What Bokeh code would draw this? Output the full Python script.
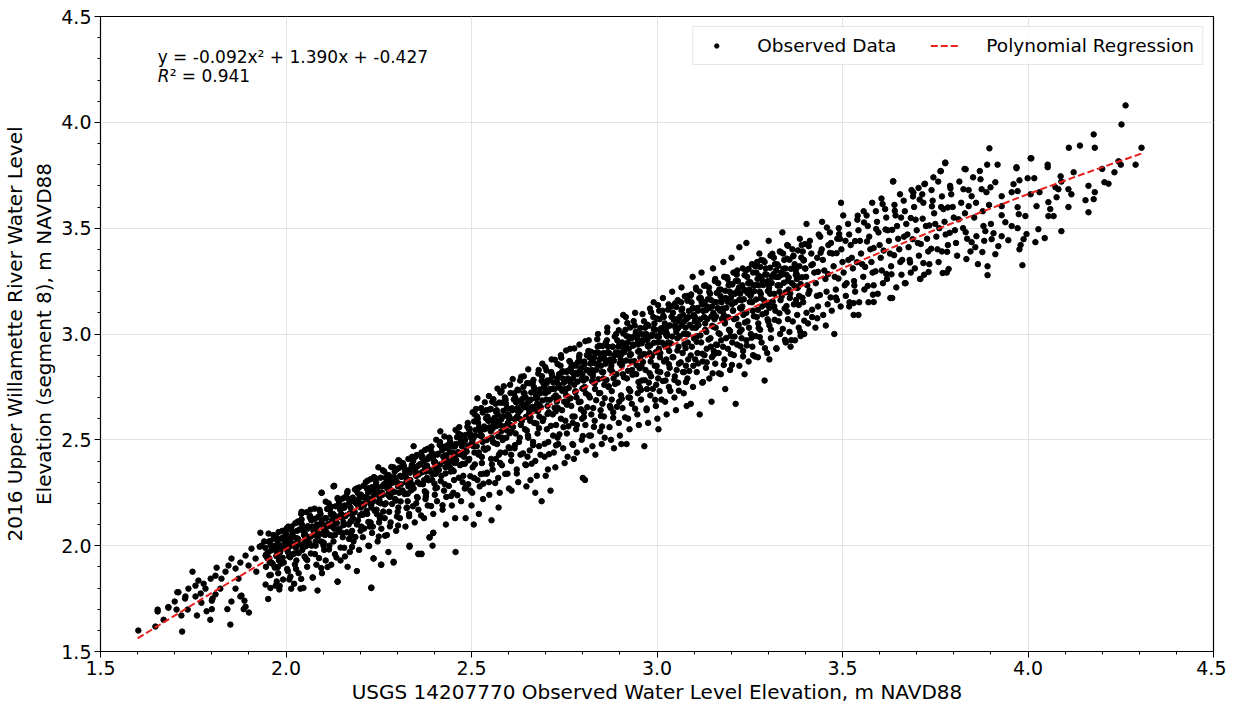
from bokeh.plotting import figure
from bokeh.models import (Range1d, SingleIntervalTicker, NumeralTickFormatter,
                          Legend, LegendItem, Label)
from bokeh.embed import file_html
from bokeh.resources import INLINE

# ---------------- data ----------------
obs_160_195 = [
    (1.602, 1.599), (1.648, 1.618), (1.654, 1.698), (1.654, 1.689), (1.670, 1.650), (1.683, 1.707),
    (1.700, 1.736), (1.705, 1.698), (1.710, 1.780), (1.718, 1.670), (1.720, 1.594), (1.728, 1.750),
    (1.735, 1.698), (1.748, 1.877), (1.756, 1.760), (1.760, 1.670), (1.772, 1.730), (1.786, 1.690),
    (1.796, 1.650), (1.800, 1.700), (1.800, 1.740), (1.810, 1.770), (1.813, 1.896), (1.842, 1.700),
    (1.850, 1.627), (1.853, 1.736), (1.880, 1.764), (1.888, 1.740), (1.886, 1.700), (1.900, 1.684),
    (1.707, 1.780), (1.683, 1.710), (1.764, 1.835), (1.783, 1.797), (1.797, 1.844), (1.810, 1.858),
    (1.826, 1.844), (1.837, 1.877), (1.845, 1.906), (1.853, 1.939), (1.864, 1.892), (1.872, 1.844),
    (1.877, 1.920), (1.891, 1.953), (1.899, 1.906), (1.907, 1.986), (1.918, 1.939), (1.920, 1.877),
    (1.934, 2.000), (1.945, 1.953), (1.953, 2.019), (1.961, 1.920), (1.974, 2.042), (1.988, 1.986),
    (1.999, 2.066), (2.007, 2.000), (1.877, 1.760), (1.891, 1.712), (1.864, 1.797), (1.823, 1.797),
    (1.802, 1.750), (1.770, 1.774), (1.737, 1.797), (1.729, 1.760), (1.756, 1.811), (1.778, 1.820),
    (1.931, 2.061), (1.929, 1.995), (1.972, 1.811), (1.945, 1.816), (2.012, 1.854), (2.039, 1.797),
    (2.085, 1.788), (2.042, 2.160), (2.096, 2.250), (2.130, 2.283), (2.139, 1.830), (2.230, 1.802),
    (2.236, 1.939), (2.257, 1.910), (2.290, 1.924), (2.333, 1.995), (2.357, 1.962), (2.365, 1.962),
    (2.387, 2.038), (2.397, 2.061),
]

obs_195_250 = [
    (1.941, 2.02), (1.944, 1.99), (1.947, 1.96), (1.950, 1.94), (1.953, 1.97), (1.956, 1.92), (1.959, 2.00), (1.946, 1.90), (1.955, 1.86), (1.958, 1.80),
    (1.966, 2.05), (1.969, 2.00), (1.972, 1.98), (1.975, 1.95), (1.978, 2.02), (1.981, 1.93), (1.984, 1.97), (1.970, 1.90), (1.979, 1.87), (1.983, 1.81),
    (1.990, 2.07), (1.993, 2.04), (1.996, 2.01), (1.999, 1.99), (2.002, 2.05), (2.005, 1.97), (2.008, 1.95), (2.011, 2.02), (1.994, 1.92), (2.003, 1.89), (2.009, 1.84), (2.006, 2.09),
    (2.015, 2.09), (2.018, 2.06), (2.021, 2.04), (2.024, 2.01), (2.027, 1.99), (2.030, 2.07), (2.033, 2.03), (2.019, 1.96), (2.028, 1.93), (2.034, 1.87), (2.022, 1.82), (2.031, 2.11),
    (2.040, 2.12), (2.043, 2.10), (2.046, 2.07), (2.049, 2.05), (2.052, 2.02), (2.055, 2.00), (2.058, 2.08), (2.044, 1.98), (2.053, 1.94), (2.057, 1.90), (2.047, 1.80), (2.060, 2.04), (2.041, 2.15),
    (2.065, 2.14), (2.068, 2.12), (2.071, 2.09), (2.074, 2.07), (2.077, 2.05), (2.080, 2.02), (2.083, 2.10), (2.069, 2.00), (2.078, 1.96), (2.082, 1.91), (2.072, 1.85), (2.085, 2.06), (2.066, 2.17),
    (2.090, 2.17), (2.093, 2.15), (2.096, 2.12), (2.099, 2.10), (2.102, 2.08), (2.105, 2.05), (2.108, 2.13), (2.094, 2.02), (2.103, 1.98), (2.107, 1.93), (2.097, 1.87), (2.110, 2.09), (2.096, 2.25), (2.101, 2.00),
    (2.115, 2.20), (2.118, 2.17), (2.121, 2.15), (2.124, 2.12), (2.127, 2.10), (2.130, 2.08), (2.133, 2.14), (2.119, 2.05), (2.128, 2.02), (2.132, 1.96), (2.122, 1.91), (2.135, 2.11), (2.128, 2.28), (2.117, 2.00),
    (2.140, 2.22), (2.143, 2.20), (2.146, 2.17), (2.149, 2.15), (2.152, 2.13), (2.155, 2.11), (2.158, 2.19), (2.144, 2.08), (2.153, 2.04), (2.157, 1.99), (2.147, 1.93), (2.160, 2.14), (2.139, 1.83), (2.151, 2.06),
    (2.165, 2.25), (2.168, 2.22), (2.171, 2.20), (2.174, 2.18), (2.177, 2.15), (2.180, 2.13), (2.183, 2.21), (2.169, 2.10), (2.178, 2.07), (2.182, 2.02), (2.172, 1.97), (2.185, 2.16), (2.166, 1.90), (2.176, 2.05),
    (2.190, 2.27), (2.193, 2.25), (2.196, 2.22), (2.199, 2.20), (2.202, 2.18), (2.205, 2.15), (2.208, 2.23), (2.194, 2.12), (2.203, 2.09), (2.207, 2.04), (2.197, 1.98), (2.210, 2.19), (2.191, 1.88), (2.201, 2.07),
    (2.215, 2.30), (2.218, 2.27), (2.221, 2.25), (2.224, 2.22), (2.227, 2.20), (2.230, 2.18), (2.233, 2.26), (2.219, 2.15), (2.228, 2.11), (2.232, 2.06), (2.222, 2.00), (2.235, 2.21), (2.230, 1.80), (2.226, 2.09), (2.236, 1.94),
    (2.240, 2.32), (2.243, 2.30), (2.246, 2.27), (2.249, 2.25), (2.252, 2.23), (2.255, 2.20), (2.258, 2.28), (2.244, 2.17), (2.253, 2.14), (2.257, 2.08), (2.247, 2.02), (2.260, 2.24), (2.249, 2.37), (2.256, 1.91), (2.251, 2.11),
    (2.265, 2.35), (2.268, 2.32), (2.271, 2.30), (2.274, 2.27), (2.277, 2.25), (2.280, 2.23), (2.283, 2.31), (2.269, 2.20), (2.278, 2.16), (2.282, 2.11), (2.272, 2.05), (2.285, 2.26), (2.276, 1.97), (2.266, 2.13),
    (2.290, 2.37), (2.293, 2.35), (2.296, 2.32), (2.299, 2.30), (2.302, 2.28), (2.305, 2.25), (2.308, 2.33), (2.294, 2.22), (2.303, 2.18), (2.307, 2.13), (2.297, 2.07), (2.310, 2.29), (2.290, 1.92), (2.301, 2.16), (2.306, 2.40),
    (2.315, 2.39), (2.318, 2.37), (2.321, 2.35), (2.324, 2.32), (2.327, 2.30), (2.330, 2.28), (2.333, 2.36), (2.319, 2.25), (2.328, 2.21), (2.332, 2.15), (2.322, 2.09), (2.335, 2.31), (2.333, 2.00), (2.326, 2.18),
    (2.340, 2.42), (2.343, 2.40), (2.346, 2.37), (2.349, 2.35), (2.352, 2.33), (2.355, 2.30), (2.358, 2.38), (2.344, 2.27), (2.353, 2.23), (2.357, 2.17), (2.347, 2.11), (2.360, 2.34), (2.357, 1.96), (2.351, 2.20), (2.344, 2.47),
    (2.365, 2.44), (2.368, 2.42), (2.371, 2.40), (2.374, 2.37), (2.377, 2.35), (2.380, 2.32), (2.383, 2.41), (2.369, 2.29), (2.378, 2.25), (2.382, 2.19), (2.372, 2.13), (2.385, 2.36), (2.365, 1.96), (2.376, 2.22), (2.387, 2.04),
    (2.390, 2.46), (2.393, 2.44), (2.396, 2.42), (2.399, 2.40), (2.402, 2.37), (2.405, 2.35), (2.408, 2.43), (2.394, 2.31), (2.403, 2.27), (2.407, 2.21), (2.397, 2.15), (2.410, 2.38), (2.397, 2.06), (2.401, 2.24), (2.395, 2.00),
    (2.415, 2.49), (2.418, 2.47), (2.421, 2.45), (2.424, 2.42), (2.427, 2.40), (2.430, 2.37), (2.433, 2.46), (2.419, 2.33), (2.428, 2.29), (2.432, 2.23), (2.422, 2.17), (2.435, 2.41), (2.416, 2.54), (2.426, 2.26), (2.431, 2.10),
    (2.440, 2.51), (2.443, 2.49), (2.446, 2.47), (2.449, 2.44), (2.452, 2.42), (2.455, 2.39), (2.458, 2.48), (2.444, 2.35), (2.453, 2.31), (2.457, 1.97), (2.447, 2.19), (2.460, 2.43), (2.451, 2.25), (2.456, 2.13), (2.442, 2.37),
    (2.465, 2.53), (2.468, 2.51), (2.471, 2.49), (2.474, 2.47), (2.477, 2.44), (2.480, 2.42), (2.483, 2.50), (2.469, 2.38), (2.478, 2.33), (2.482, 2.27), (2.472, 2.21), (2.485, 2.45), (2.484, 2.13), (2.476, 2.30), (2.467, 2.56),
]

obs_250_300 = [
    (2.490, 2.58), (2.493, 2.55), (2.496, 2.53), (2.499, 2.51), (2.502, 2.49), (2.505, 2.47), (2.508, 2.44), (2.494, 2.41), (2.503, 2.37), (2.507, 2.32), (2.497, 2.26), (2.510, 2.52), (2.500, 2.19), (2.506, 2.10), (2.491, 2.29), (2.509, 2.62),
    (2.515, 2.61), (2.518, 2.58), (2.521, 2.56), (2.524, 2.54), (2.527, 2.52), (2.530, 2.49), (2.533, 2.46), (2.519, 2.43), (2.528, 2.39), (2.532, 2.34), (2.522, 2.28), (2.535, 2.55), (2.520, 2.15), (2.531, 2.22), (2.516, 2.31), (2.526, 2.65),
    (2.540, 2.64), (2.543, 2.61), (2.546, 2.59), (2.549, 2.56), (2.552, 2.54), (2.555, 2.51), (2.558, 2.49), (2.544, 2.46), (2.553, 2.41), (2.557, 2.36), (2.547, 2.30), (2.560, 2.58), (2.554, 2.12), (2.548, 2.24), (2.541, 2.34), (2.556, 2.68),
    (2.565, 2.67), (2.568, 2.64), (2.571, 2.62), (2.574, 2.59), (2.577, 2.57), (2.580, 2.54), (2.583, 2.51), (2.569, 2.48), (2.578, 2.44), (2.582, 2.38), (2.572, 2.32), (2.585, 2.61), (2.576, 2.25), (2.566, 2.41), (2.581, 2.73), (2.573, 2.18),
    (2.590, 2.70), (2.593, 2.67), (2.596, 2.65), (2.599, 2.62), (2.602, 2.60), (2.605, 2.57), (2.608, 2.54), (2.594, 2.51), (2.603, 2.46), (2.607, 2.40), (2.597, 2.34), (2.610, 2.64), (2.601, 2.27), (2.608, 2.26), (2.591, 2.44), (2.604, 2.76), (2.598, 2.58),
    (2.615, 2.72), (2.618, 2.70), (2.621, 2.68), (2.624, 2.65), (2.627, 2.63), (2.630, 2.60), (2.633, 2.57), (2.619, 2.53), (2.628, 2.49), (2.632, 2.43), (2.622, 2.36), (2.635, 2.67), (2.626, 2.30), (2.616, 2.46), (2.631, 2.78), (2.623, 2.61),
    (2.640, 2.75), (2.643, 2.72), (2.646, 2.70), (2.649, 2.67), (2.652, 2.65), (2.655, 2.62), (2.658, 2.59), (2.644, 2.55), (2.653, 2.51), (2.657, 2.45), (2.647, 2.38), (2.660, 2.69), (2.659, 2.31), (2.651, 2.42), (2.641, 2.80), (2.656, 2.63), (2.648, 2.28),
    (2.665, 2.77), (2.668, 2.75), (2.671, 2.72), (2.674, 2.70), (2.677, 2.67), (2.680, 2.64), (2.683, 2.61), (2.669, 2.58), (2.678, 2.53), (2.682, 2.47), (2.672, 2.40), (2.685, 2.72), (2.672, 2.25), (2.676, 2.33), (2.666, 2.49), (2.681, 2.83), (2.684, 2.66),
    (2.690, 2.80), (2.693, 2.77), (2.696, 2.75), (2.699, 2.72), (2.702, 2.69), (2.705, 2.66), (2.708, 2.63), (2.694, 2.60), (2.703, 2.55), (2.707, 2.49), (2.697, 2.42), (2.710, 2.74), (2.700, 2.33), (2.689, 2.21), (2.706, 2.36), (2.691, 2.86), (2.704, 2.78),
    (2.715, 2.82), (2.718, 2.80), (2.721, 2.77), (2.724, 2.74), (2.727, 2.71), (2.730, 2.68), (2.733, 2.65), (2.719, 2.62), (2.728, 2.57), (2.732, 2.51), (2.722, 2.44), (2.735, 2.76), (2.713, 2.26), (2.726, 2.37), (2.716, 2.88), (2.731, 2.79), (2.734, 2.48),
    (2.740, 2.85), (2.743, 2.82), (2.746, 2.79), (2.749, 2.77), (2.752, 2.74), (2.755, 2.71), (2.758, 2.68), (2.744, 2.64), (2.753, 2.59), (2.757, 2.53), (2.747, 2.46), (2.760, 2.79), (2.751, 2.39), (2.741, 2.90), (2.756, 2.82), (2.748, 2.56), (2.759, 2.42),
    (2.765, 2.87), (2.768, 2.84), (2.771, 2.82), (2.774, 2.79), (2.777, 2.76), (2.780, 2.73), (2.783, 2.70), (2.769, 2.66), (2.778, 2.61), (2.782, 2.55), (2.772, 2.48), (2.785, 2.81), (2.776, 2.41), (2.766, 2.93), (2.781, 2.85), (2.773, 2.58), (2.784, 2.44),
    (2.790, 2.89), (2.793, 2.87), (2.796, 2.84), (2.799, 2.81), (2.802, 2.78), (2.805, 2.75), (2.808, 2.72), (2.794, 2.68), (2.803, 2.63), (2.807, 2.57), (2.797, 2.50), (2.810, 2.83), (2.800, 2.32), (2.806, 2.31), (2.791, 2.95), (2.804, 2.87), (2.798, 2.60), (2.809, 2.45),
    (2.815, 2.92), (2.818, 2.89), (2.821, 2.86), (2.824, 2.83), (2.827, 2.80), (2.830, 2.77), (2.833, 2.74), (2.819, 2.70), (2.828, 2.65), (2.832, 2.59), (2.822, 2.52), (2.835, 2.86), (2.826, 2.47), (2.816, 2.97), (2.831, 2.89), (2.823, 2.62), (2.834, 2.43),
    (2.840, 2.94), (2.843, 2.91), (2.846, 2.88), (2.849, 2.85), (2.852, 2.82), (2.855, 2.79), (2.858, 2.76), (2.844, 2.72), (2.853, 2.67), (2.857, 2.61), (2.847, 2.54), (2.860, 2.88), (2.851, 2.48), (2.841, 3.00), (2.856, 2.91), (2.848, 2.64), (2.859, 2.51),
    (2.865, 2.97), (2.868, 2.94), (2.871, 2.91), (2.874, 2.88), (2.877, 2.85), (2.880, 2.82), (2.883, 2.79), (2.869, 2.75), (2.878, 2.69), (2.882, 2.63), (2.872, 2.56), (2.885, 2.90), (2.876, 2.50), (2.866, 3.03), (2.881, 2.94), (2.873, 2.66), (2.884, 2.46),
    (2.890, 3.00), (2.893, 2.97), (2.896, 2.94), (2.899, 2.91), (2.902, 2.88), (2.905, 2.85), (2.908, 2.81), (2.894, 2.77), (2.903, 2.71), (2.907, 2.65), (2.897, 2.58), (2.910, 2.93), (2.900, 2.52), (2.891, 3.06), (2.906, 2.96), (2.898, 2.68), (2.909, 3.09), (2.904, 2.48),
    (2.915, 3.02), (2.918, 2.99), (2.921, 2.96), (2.924, 2.93), (2.927, 2.90), (2.930, 2.87), (2.933, 2.83), (2.919, 2.79), (2.928, 2.73), (2.932, 2.67), (2.922, 2.60), (2.935, 2.95), (2.918, 2.48), (2.926, 2.55), (2.916, 3.08), (2.931, 2.98), (2.923, 2.70),
    (2.940, 3.04), (2.943, 3.01), (2.946, 2.98), (2.949, 2.95), (2.952, 2.92), (2.955, 2.89), (2.958, 2.85), (2.944, 2.81), (2.953, 2.75), (2.957, 2.69), (2.947, 2.62), (2.960, 2.97), (2.951, 2.57), (2.941, 3.10), (2.956, 3.00), (2.948, 2.72), (2.959, 2.78),
    (2.965, 3.06), (2.968, 3.03), (2.971, 3.00), (2.974, 2.97), (2.977, 2.94), (2.980, 2.91), (2.983, 2.87), (2.969, 2.83), (2.978, 2.77), (2.982, 2.71), (2.972, 2.64), (2.985, 2.99), (2.966, 2.47), (2.976, 2.58), (2.981, 3.12), (2.973, 2.74), (2.984, 2.80),
]

obs_300_340 = [
    (2.990, 3.08), (2.993, 3.05), (2.996, 3.02), (2.999, 2.99), (3.002, 2.96), (3.005, 2.93), (3.008, 2.89), (2.994, 2.85), (3.003, 2.79), (3.007, 2.73), (2.997, 2.66), (3.010, 3.01), (3.001, 2.60), (2.991, 3.15), (3.006, 3.11), (2.998, 2.76), (3.009, 2.82), (3.004, 2.55),
    (3.015, 3.11), (3.018, 3.08), (3.021, 3.05), (3.024, 3.02), (3.027, 2.99), (3.030, 2.96), (3.033, 2.92), (3.019, 2.87), (3.028, 2.81), (3.032, 2.75), (3.022, 2.68), (3.035, 3.04), (3.026, 2.62), (3.016, 3.17), (3.031, 3.14), (3.023, 2.78), (3.034, 2.84),
    (3.040, 3.13), (3.043, 3.10), (3.046, 3.07), (3.049, 3.04), (3.052, 3.01), (3.055, 2.98), (3.058, 2.94), (3.044, 2.89), (3.053, 2.83), (3.057, 2.77), (3.047, 2.70), (3.060, 3.06), (3.051, 2.64), (3.041, 3.20), (3.056, 3.16), (3.048, 2.80), (3.059, 2.86),
    (3.065, 3.15), (3.068, 3.12), (3.071, 3.09), (3.074, 3.06), (3.077, 3.03), (3.080, 3.00), (3.083, 2.96), (3.069, 2.91), (3.078, 2.85), (3.082, 2.79), (3.072, 2.72), (3.085, 3.08), (3.080, 2.66), (3.066, 3.22), (3.081, 3.18), (3.073, 2.82), (3.084, 2.88),
    (3.090, 3.18), (3.093, 3.15), (3.096, 3.12), (3.099, 3.09), (3.102, 3.06), (3.105, 3.03), (3.108, 2.99), (3.094, 2.94), (3.103, 2.88), (3.107, 2.82), (3.097, 2.75), (3.110, 3.11), (3.096, 3.27), (3.091, 2.67), (3.106, 3.21), (3.098, 2.85), (3.109, 2.91),
    (3.115, 3.20), (3.118, 3.17), (3.121, 3.14), (3.124, 3.11), (3.127, 3.08), (3.130, 3.05), (3.133, 3.01), (3.119, 2.96), (3.128, 2.90), (3.132, 2.84), (3.122, 2.77), (3.135, 3.13), (3.120, 3.29), (3.115, 2.62), (3.131, 3.23), (3.123, 2.87), (3.134, 2.93),
    (3.140, 3.22), (3.143, 3.19), (3.146, 3.16), (3.149, 3.13), (3.152, 3.10), (3.155, 3.07), (3.158, 3.03), (3.144, 2.98), (3.153, 2.92), (3.157, 2.86), (3.147, 2.68), (3.160, 3.15), (3.151, 3.31), (3.141, 2.79), (3.156, 3.25), (3.148, 2.89), (3.159, 2.95),
    (3.165, 3.24), (3.168, 3.21), (3.171, 3.18), (3.174, 3.15), (3.177, 3.12), (3.180, 3.09), (3.183, 3.05), (3.169, 3.00), (3.178, 2.94), (3.182, 2.88), (3.172, 2.81), (3.185, 3.17), (3.179, 3.34), (3.166, 2.91), (3.181, 3.27), (3.173, 2.97), (3.184, 2.74),
    (3.190, 3.26), (3.193, 3.23), (3.196, 3.20), (3.199, 3.17), (3.202, 3.14), (3.205, 3.11), (3.208, 3.07), (3.194, 3.02), (3.203, 2.96), (3.207, 2.90), (3.197, 2.83), (3.210, 3.19), (3.201, 3.36), (3.191, 2.93), (3.206, 3.29), (3.198, 2.99), (3.212, 2.67),
    (3.215, 3.28), (3.218, 3.25), (3.221, 3.22), (3.224, 3.19), (3.227, 3.16), (3.230, 3.13), (3.233, 3.09), (3.219, 3.04), (3.228, 2.98), (3.232, 2.92), (3.222, 2.85), (3.235, 3.21), (3.222, 3.41), (3.216, 2.95), (3.231, 3.31), (3.223, 3.01), (3.236, 2.81),
    (3.240, 3.30), (3.243, 3.27), (3.246, 3.24), (3.249, 3.21), (3.252, 3.18), (3.255, 3.15), (3.258, 3.11), (3.244, 3.06), (3.253, 3.00), (3.257, 2.94), (3.247, 2.87), (3.260, 3.23), (3.241, 3.43), (3.241, 2.97), (3.256, 3.33), (3.248, 3.03), (3.259, 2.90),
    (3.265, 3.32), (3.268, 3.29), (3.271, 3.26), (3.274, 3.23), (3.277, 3.20), (3.280, 3.17), (3.283, 3.13), (3.269, 3.08), (3.278, 3.02), (3.282, 2.96), (3.272, 2.89), (3.285, 3.25), (3.276, 3.38), (3.266, 2.99), (3.281, 3.35), (3.273, 3.05), (3.290, 2.78),
    (3.290, 3.34), (3.293, 3.31), (3.296, 3.28), (3.299, 3.25), (3.302, 3.22), (3.305, 3.19), (3.308, 3.15), (3.294, 3.10), (3.303, 3.04), (3.307, 2.98), (3.297, 2.91), (3.310, 3.27), (3.301, 3.44), (3.303, 2.88), (3.306, 3.37), (3.298, 3.07),
    (3.315, 3.36), (3.318, 3.33), (3.321, 3.30), (3.324, 3.27), (3.327, 3.23), (3.330, 3.20), (3.333, 3.16), (3.319, 3.11), (3.328, 3.06), (3.332, 3.00), (3.322, 2.93), (3.335, 3.29), (3.338, 3.48), (3.316, 3.13), (3.331, 3.39),
    (3.340, 3.38), (3.343, 3.35), (3.346, 3.31), (3.349, 3.28), (3.352, 3.25), (3.355, 3.21), (3.358, 3.17), (3.344, 3.12), (3.353, 3.07), (3.357, 3.01), (3.347, 2.96), (3.360, 2.94), (3.351, 3.42),
    (3.365, 3.40), (3.368, 3.37), (3.371, 3.33), (3.374, 3.30), (3.377, 3.26), (3.380, 3.22), (3.383, 3.18), (3.369, 3.14), (3.378, 3.09), (3.382, 3.03), (3.372, 2.97), (3.385, 3.45), (3.387, 2.99),
    (3.390, 3.42), (3.393, 3.39), (3.396, 3.35), (3.399, 3.31), (3.402, 3.27), (3.405, 3.23), (3.408, 3.19), (3.394, 3.15), (3.403, 3.10), (3.407, 3.05), (3.397, 3.00), (3.403, 3.52),
]

obs_340_380 = [
    (3.412, 3.44), (3.416, 3.38), (3.420, 3.33), (3.424, 3.29), (3.428, 3.24), (3.431, 3.18), (3.434, 3.13), (3.418, 3.08), (3.427, 3.03), (3.436, 3.47), (3.432, 3.36),
    (3.440, 3.46), (3.444, 3.40), (3.447, 3.35), (3.451, 3.30), (3.454, 3.26), (3.457, 3.20), (3.460, 3.14), (3.448, 3.09), (3.455, 3.04), (3.462, 3.42), (3.445, 3.53),
    (3.466, 3.48), (3.469, 3.43), (3.473, 3.38), (3.476, 3.32), (3.479, 3.27), (3.482, 3.21), (3.485, 3.16), (3.471, 3.11), (3.478, 3.00), (3.486, 3.45),
    (3.490, 3.50), (3.493, 3.45), (3.497, 3.40), (3.500, 3.34), (3.503, 3.29), (3.506, 3.23), (3.509, 3.18), (3.495, 3.13), (3.502, 3.56), (3.496, 3.62),
    (3.515, 3.52), (3.518, 3.47), (3.522, 3.42), (3.525, 3.36), (3.528, 3.31), (3.531, 3.25), (3.534, 3.20), (3.519, 3.15), (3.530, 3.09),
    (3.540, 3.54), (3.543, 3.49), (3.547, 3.44), (3.550, 3.38), (3.553, 3.33), (3.556, 3.27), (3.559, 3.21), (3.545, 3.15), (3.557, 3.58),
    (3.565, 3.56), (3.568, 3.51), (3.572, 3.46), (3.575, 3.40), (3.578, 3.34), (3.581, 3.29), (3.584, 3.23), (3.570, 3.15), (3.580, 3.62),
    (3.590, 3.58), (3.593, 3.53), (3.597, 3.48), (3.600, 3.42), (3.603, 3.36), (3.606, 3.30), (3.609, 3.24), (3.595, 3.19), (3.605, 3.64),
    (3.615, 3.59), (3.618, 3.55), (3.622, 3.49), (3.625, 3.44), (3.628, 3.38), (3.631, 3.32), (3.634, 3.17), (3.620, 3.26), (3.636, 3.72),
    (3.640, 3.61), (3.643, 3.56), (3.647, 3.51), (3.650, 3.45), (3.653, 3.40), (3.656, 3.34), (3.659, 3.28), (3.645, 3.22), (3.655, 3.66),
    (3.665, 3.63), (3.668, 3.58), (3.672, 3.52), (3.675, 3.47), (3.678, 3.41), (3.681, 3.35), (3.684, 3.29), (3.670, 3.24), (3.686, 3.68),
    (3.690, 3.65), (3.693, 3.60), (3.697, 3.54), (3.700, 3.49), (3.703, 3.43), (3.706, 3.37), (3.709, 3.26), (3.695, 3.31), (3.705, 3.69),
    (3.715, 3.66), (3.718, 3.62), (3.722, 3.71), (3.725, 3.51), (3.728, 3.45), (3.731, 3.39), (3.734, 3.33), (3.720, 3.28),
    (3.740, 3.68), (3.743, 3.63), (3.747, 3.57), (3.750, 3.52), (3.753, 3.46), (3.756, 3.40), (3.759, 3.34), (3.745, 3.74),
    (3.765, 3.77), (3.768, 3.65), (3.772, 3.59), (3.775, 3.53), (3.778, 3.47), (3.781, 3.29), (3.784, 3.42), (3.777, 3.81),
    (3.790, 3.70), (3.793, 3.66), (3.797, 3.60), (3.800, 3.55), (3.803, 3.49), (3.806, 3.43), (3.809, 3.37),
    (3.409, 3.415), (3.416, 3.325), (3.411, 3.205), (3.418, 3.115), (3.441, 3.384), (3.434, 3.294), (3.439, 3.184), (3.432, 3.074),
    (3.458, 3.503), (3.466, 3.383), (3.461, 3.283), (3.468, 3.173), (3.491, 3.472), (3.484, 3.382), (3.489, 3.262), (3.482, 3.172),
    (3.508, 3.440), (3.516, 3.350), (3.511, 3.240), (3.518, 3.130), (3.541, 3.559), (3.534, 3.439), (3.539, 3.339), (3.532, 3.229),
    (3.558, 3.527), (3.566, 3.437), (3.561, 3.317), (3.568, 3.227), (3.591, 3.496), (3.584, 3.406), (3.589, 3.296), (3.582, 3.186),
    (3.608, 3.614), (3.616, 3.494), (3.611, 3.394), (3.618, 3.284), (3.641, 3.582), (3.634, 3.492), (3.639, 3.372), (3.632, 3.282),
    (3.658, 3.550), (3.666, 3.460), (3.661, 3.350), (3.668, 3.240), (3.691, 3.668), (3.684, 3.548), (3.689, 3.448), (3.682, 3.338),
    (3.708, 3.635), (3.716, 3.545), (3.711, 3.425), (3.718, 3.335), (3.741, 3.603), (3.734, 3.513), (3.739, 3.403), (3.732, 3.293),
    (3.758, 3.720), (3.766, 3.600), (3.761, 3.500), (3.768, 3.390), (3.791, 3.688), (3.784, 3.598), (3.789, 3.478), (3.782, 3.388),
]

obs_380_431 = [
    (3.815, 3.72), (3.820, 3.62), (3.825, 3.50), (3.830, 3.57), (3.836, 3.45), (3.840, 3.68), (3.845, 3.39),
    (3.852, 3.74), (3.855, 3.55), (3.860, 3.62), (3.865, 3.33), (3.870, 3.77), (3.878, 3.58), (3.882, 3.44),
    (3.890, 3.80), (3.895, 3.61), (3.900, 3.52),
    (4.263, 4.080), (4.252, 3.990), (4.306, 3.880), (4.290, 3.800), (4.177, 3.943), (4.180, 3.880), (4.140, 3.890),
    (4.110, 3.880), (4.250, 3.800), (4.244, 3.816), (4.233, 3.764), (4.200, 3.780), (4.217, 3.710), (4.206, 3.717),
    (4.163, 3.700), (4.180, 3.670), (4.177, 3.637), (4.155, 3.632), (4.163, 3.575), (4.109, 3.684), (4.117, 3.660),
    (4.109, 3.600), (4.090, 3.486), (4.123, 3.764), (4.088, 3.745), (4.090, 3.720), (4.074, 3.693), (4.077, 3.646),
    (4.053, 3.800), (4.053, 3.788), (4.009, 3.830), (3.999, 3.736), (4.017, 3.736), (4.007, 3.660), (4.031, 3.670),
    (4.023, 3.604), (4.055, 3.623), (4.060, 3.590), (4.055, 3.557), (4.069, 3.557), (4.045, 3.453), (4.020, 3.434),
    (4.028, 3.495), (3.996, 3.472), (3.988, 3.448), (3.980, 3.420), (3.977, 3.400), (3.985, 3.325), (3.972, 3.500),
    (3.972, 3.599), (3.975, 3.566), (3.972, 3.675), (3.977, 3.726), (3.969, 3.788), (3.961, 3.708), (3.956, 3.670),
    (3.918, 3.800), (3.896, 3.877), (3.891, 3.320), (3.891, 3.278), (3.834, 3.354), (3.829, 3.780), (3.912, 3.717),
    (3.899, 3.693), (3.888, 3.670), (3.875, 3.684), (3.872, 3.731), (3.929, 3.651), (3.929, 3.604), (3.929, 3.561),
    (3.939, 3.528), (3.956, 3.510), (3.947, 3.443), (3.929, 3.462), (3.912, 3.377), (3.920, 3.415), (3.902, 3.448),
    (3.907, 3.476), (3.880, 3.510), (3.885, 3.486), (3.861, 3.462), (3.848, 3.434), (3.877, 3.387), (3.858, 3.410),
    (3.832, 3.481), (3.813, 3.542), (3.840, 3.604), (3.826, 3.684), (3.848, 3.651), (4.082, 3.684), (3.993, 3.557),
    (3.777, 3.807), (3.764, 3.769), (3.637, 3.722), (3.721, 3.708), (3.832, 3.778), (4.007, 3.830), (3.969, 3.783),
    (3.770, 3.288), (3.710, 3.260), (3.786, 3.307), (3.629, 3.170), (3.584, 3.151), (3.530, 3.146), (3.543, 3.090),
]

# second pass over the dense core of the cloud (1.95 - 3.40)
obs_core_a = [
    (1.953, 2.057), (1.967, 2.033), (1.957, 2.022), (1.972, 1.991), (1.961, 1.978), (1.974, 1.952), (1.955, 1.941), (1.964, 1.914), (1.970, 1.896), (1.959, 1.862), (1.975, 1.831), (1.952, 1.748),
    (1.999, 2.074), (1.980, 2.064), (1.989, 2.035), (1.995, 2.026), (1.984, 1.999), (2.000, 1.985), (1.977, 1.956), (1.991, 1.943), (1.987, 1.915), (1.978, 1.899), (1.992, 1.840), (1.982, 1.793),
    (2.025, 2.106), (2.002, 2.082), (2.016, 2.071), (2.012, 2.040), (2.003, 2.027), (2.017, 2.001), (2.007, 1.990), (2.022, 1.963), (2.011, 1.945), (2.024, 1.911), (2.005, 1.880), (2.014, 1.797),
    (2.042, 2.124), (2.032, 2.114), (2.047, 2.085), (2.036, 2.076), (2.049, 2.049), (2.030, 2.035), (2.039, 2.006), (2.045, 1.993), (2.034, 1.965), (2.050, 1.949), (2.027, 1.890), (2.041, 1.843),
    (2.055, 2.158), (2.064, 2.134), (2.070, 2.123), (2.059, 2.092), (2.075, 2.079), (2.052, 2.053), (2.066, 2.042), (2.062, 2.015), (2.053, 1.997), (2.067, 1.963), (2.057, 1.932), (2.072, 1.849),
    (2.077, 2.175), (2.091, 2.165), (2.087, 2.136), (2.078, 2.127), (2.092, 2.100), (2.082, 2.086), (2.097, 2.057), (2.086, 2.044), (2.099, 2.016), (2.080, 2.000), (2.089, 1.941), (2.095, 1.894),
    (2.107, 2.208), (2.122, 2.184), (2.111, 2.173), (2.124, 2.142), (2.105, 2.129), (2.114, 2.103), (2.120, 2.092), (2.109, 2.065), (2.125, 2.047), (2.102, 2.013), (2.116, 1.982), (2.112, 1.899),
    (2.139, 2.225), (2.145, 2.215), (2.134, 2.186), (2.150, 2.177), (2.127, 2.150), (2.141, 2.136), (2.137, 2.107), (2.128, 2.094), (2.142, 2.066), (2.132, 2.050), (2.147, 1.991), (2.136, 1.944),
    (2.166, 2.258), (2.162, 2.234), (2.153, 2.223), (2.167, 2.192), (2.157, 2.179), (2.172, 2.153), (2.161, 2.142), (2.174, 2.115), (2.155, 2.097), (2.164, 2.063), (2.170, 2.032), (2.159, 1.949),
    (2.197, 2.275), (2.186, 2.265), (2.199, 2.236), (2.180, 2.227), (2.189, 2.200), (2.195, 2.186), (2.184, 2.157), (2.200, 2.144), (2.177, 2.116), (2.191, 2.100), (2.187, 2.041), (2.178, 1.994),
    (2.220, 2.307), (2.209, 2.283), (2.225, 2.272), (2.202, 2.241), (2.216, 2.228), (2.212, 2.202), (2.203, 2.191), (2.217, 2.164), (2.207, 2.146), (2.222, 2.112), (2.211, 2.081), (2.224, 1.998),
    (2.237, 2.324), (2.228, 2.314), (2.242, 2.285), (2.232, 2.276), (2.247, 2.249), (2.236, 2.235), (2.249, 2.206), (2.230, 2.193), (2.239, 2.165), (2.245, 2.149), (2.234, 2.090), (2.250, 2.043),
    (2.261, 2.356), (2.274, 2.332), (2.255, 2.321), (2.264, 2.290), (2.270, 2.277), (2.259, 2.251), (2.275, 2.240), (2.252, 2.213), (2.266, 2.195), (2.262, 2.161), (2.253, 2.130), (2.267, 2.047),
    (2.284, 2.372), (2.300, 2.362), (2.277, 2.333), (2.291, 2.324), (2.287, 2.297), (2.278, 2.283), (2.292, 2.254), (2.282, 2.241), (2.297, 2.213), (2.286, 2.197), (2.299, 2.138), (2.280, 2.091),
    (2.303, 2.404), (2.317, 2.380), (2.307, 2.369), (2.322, 2.338), (2.311, 2.325), (2.324, 2.299), (2.305, 2.288), (2.314, 2.261), (2.320, 2.243), (2.309, 2.209), (2.325, 2.178), (2.302, 2.095),
    (2.349, 2.420), (2.330, 2.410), (2.339, 2.381), (2.345, 2.372), (2.334, 2.345), (2.350, 2.331), (2.327, 2.302), (2.341, 2.289), (2.337, 2.261), (2.328, 2.245), (2.342, 2.186), (2.332, 2.139),
    (2.375, 2.452), (2.352, 2.428), (2.366, 2.417), (2.362, 2.386), (2.353, 2.373), (2.367, 2.347), (2.357, 2.336), (2.372, 2.309), (2.361, 2.291), (2.374, 2.257), (2.355, 2.226), (2.364, 2.143),
    (2.392, 2.468), (2.382, 2.458), (2.397, 2.429), (2.386, 2.420), (2.399, 2.393), (2.380, 2.379), (2.389, 2.350), (2.395, 2.337), (2.384, 2.309), (2.400, 2.293), (2.377, 2.234), (2.391, 2.187),
    (2.405, 2.500), (2.414, 2.476), (2.420, 2.465), (2.409, 2.434), (2.425, 2.421), (2.402, 2.395), (2.416, 2.384), (2.412, 2.357), (2.403, 2.339), (2.417, 2.305), (2.407, 2.274), (2.422, 2.191),
    (2.427, 2.516), (2.441, 2.506), (2.437, 2.477), (2.428, 2.468), (2.442, 2.441), (2.432, 2.427), (2.447, 2.398), (2.436, 2.385), (2.449, 2.357), (2.430, 2.341), (2.439, 2.282), (2.445, 2.235),
    (2.457, 2.547), (2.472, 2.523), (2.461, 2.512), (2.474, 2.481), (2.455, 2.468), (2.464, 2.442), (2.470, 2.431), (2.459, 2.404), (2.475, 2.386), (2.452, 2.352), (2.466, 2.321), (2.462, 2.238),
    (2.489, 2.562), (2.495, 2.552), (2.484, 2.523), (2.500, 2.514), (2.477, 2.487), (2.491, 2.473), (2.487, 2.444), (2.478, 2.431), (2.492, 2.403), (2.482, 2.387), (2.497, 2.328), (2.486, 2.281),
]

obs_core_b = [
    (2.516, 2.696), (2.512, 2.646), (2.503, 2.630), (2.517, 2.600), (2.507, 2.587), (2.522, 2.558), (2.511, 2.546), (2.524, 2.519), (2.505, 2.507), (2.514, 2.470), (2.520, 2.440), (2.509, 2.384), (2.525, 2.338), (2.502, 2.250),
    (2.547, 2.707), (2.536, 2.677), (2.549, 2.643), (2.530, 2.629), (2.539, 2.602), (2.545, 2.591), (2.534, 2.563), (2.550, 2.550), (2.527, 2.518), (2.541, 2.499), (2.537, 2.453), (2.528, 2.419), (2.542, 2.345), (2.532, 2.293),
    (2.570, 2.742), (2.559, 2.692), (2.575, 2.676), (2.552, 2.646), (2.566, 2.633), (2.562, 2.604), (2.553, 2.592), (2.567, 2.565), (2.557, 2.553), (2.572, 2.516), (2.561, 2.486), (2.574, 2.430), (2.555, 2.384), (2.564, 2.296),
    (2.587, 2.753), (2.578, 2.723), (2.592, 2.689), (2.582, 2.675), (2.597, 2.648), (2.586, 2.637), (2.599, 2.609), (2.580, 2.596), (2.589, 2.564), (2.595, 2.545), (2.584, 2.499), (2.600, 2.465), (2.577, 2.391), (2.591, 2.339),
    (2.611, 2.787), (2.624, 2.737), (2.605, 2.721), (2.614, 2.691), (2.620, 2.678), (2.609, 2.649), (2.625, 2.637), (2.602, 2.610), (2.616, 2.598), (2.612, 2.561), (2.603, 2.531), (2.617, 2.475), (2.607, 2.429), (2.622, 2.341),
    (2.634, 2.798), (2.650, 2.768), (2.627, 2.734), (2.641, 2.720), (2.637, 2.693), (2.628, 2.682), (2.642, 2.654), (2.632, 2.641), (2.647, 2.609), (2.636, 2.590), (2.649, 2.544), (2.630, 2.510), (2.639, 2.436), (2.645, 2.384),
    (2.653, 2.833), (2.667, 2.783), (2.657, 2.767), (2.672, 2.737), (2.661, 2.724), (2.674, 2.695), (2.655, 2.683), (2.664, 2.656), (2.670, 2.644), (2.659, 2.607), (2.675, 2.577), (2.652, 2.521), (2.666, 2.475), (2.662, 2.387),
    (2.699, 2.843), (2.680, 2.813), (2.689, 2.779), (2.695, 2.765), (2.684, 2.738), (2.700, 2.727), (2.677, 2.699), (2.691, 2.686), (2.687, 2.654), (2.678, 2.635), (2.692, 2.589), (2.682, 2.555), (2.697, 2.481), (2.686, 2.429),
    (2.725, 2.878), (2.702, 2.828), (2.716, 2.812), (2.712, 2.782), (2.703, 2.769), (2.717, 2.740), (2.707, 2.728), (2.722, 2.701), (2.711, 2.689), (2.724, 2.652), (2.705, 2.622), (2.714, 2.566), (2.720, 2.520), (2.709, 2.432),
    (2.742, 2.888), (2.732, 2.858), (2.747, 2.824), (2.736, 2.810), (2.749, 2.783), (2.730, 2.772), (2.739, 2.744), (2.745, 2.731), (2.734, 2.699), (2.750, 2.680), (2.727, 2.634), (2.741, 2.600), (2.737, 2.526), (2.728, 2.474),
    (2.755, 2.922), (2.764, 2.872), (2.770, 2.856), (2.759, 2.826), (2.775, 2.813), (2.752, 2.784), (2.766, 2.772), (2.762, 2.745), (2.753, 2.733), (2.767, 2.696), (2.757, 2.666), (2.772, 2.610), (2.761, 2.564), (2.774, 2.476),
    (2.777, 2.932), (2.791, 2.902), (2.787, 2.868), (2.778, 2.854), (2.792, 2.827), (2.782, 2.816), (2.797, 2.788), (2.786, 2.775), (2.799, 2.743), (2.780, 2.724), (2.789, 2.678), (2.795, 2.644), (2.784, 2.570), (2.800, 2.518),
    (2.807, 2.966), (2.822, 2.916), (2.811, 2.900), (2.824, 2.870), (2.805, 2.857), (2.814, 2.828), (2.820, 2.816), (2.809, 2.789), (2.825, 2.777), (2.802, 2.740), (2.816, 2.710), (2.812, 2.654), (2.803, 2.608), (2.817, 2.520),
    (2.839, 2.975), (2.845, 2.945), (2.834, 2.911), (2.850, 2.897), (2.827, 2.870), (2.841, 2.859), (2.837, 2.831), (2.828, 2.818), (2.842, 2.786), (2.832, 2.767), (2.847, 2.721), (2.836, 2.687), (2.849, 2.613), (2.830, 2.561),
    (2.866, 3.009), (2.862, 2.959), (2.853, 2.943), (2.867, 2.913), (2.857, 2.900), (2.872, 2.871), (2.861, 2.859), (2.874, 2.832), (2.855, 2.820), (2.864, 2.783), (2.870, 2.753), (2.859, 2.697), (2.875, 2.651), (2.852, 2.563),
    (2.897, 3.018), (2.886, 2.988), (2.899, 2.954), (2.880, 2.940), (2.889, 2.913), (2.895, 2.902), (2.884, 2.874), (2.900, 2.861), (2.877, 2.829), (2.891, 2.810), (2.887, 2.764), (2.878, 2.730), (2.892, 2.656), (2.882, 2.604),
    (2.920, 3.052), (2.909, 3.002), (2.925, 2.986), (2.902, 2.956), (2.916, 2.943), (2.912, 2.914), (2.903, 2.902), (2.917, 2.875), (2.907, 2.863), (2.922, 2.826), (2.911, 2.796), (2.924, 2.740), (2.905, 2.694), (2.914, 2.606),
    (2.937, 3.061), (2.928, 3.031), (2.942, 2.997), (2.932, 2.983), (2.947, 2.956), (2.936, 2.945), (2.949, 2.917), (2.930, 2.904), (2.939, 2.872), (2.945, 2.853), (2.934, 2.807), (2.950, 2.773), (2.927, 2.699), (2.941, 2.647),
    (2.961, 3.094), (2.974, 3.044), (2.955, 3.028), (2.964, 2.998), (2.970, 2.985), (2.959, 2.956), (2.975, 2.944), (2.952, 2.917), (2.966, 2.905), (2.962, 2.868), (2.953, 2.838), (2.967, 2.782), (2.957, 2.736), (2.972, 2.648),
    (2.984, 3.103), (3.000, 3.073), (2.977, 3.039), (2.991, 3.025), (2.987, 2.998), (2.978, 2.987), (2.992, 2.959), (2.982, 2.946), (2.997, 2.914), (2.986, 2.895), (2.999, 2.849), (2.980, 2.815), (2.989, 2.741), (2.995, 2.689),
    (3.003, 3.136), (3.017, 3.086), (3.007, 3.070), (3.022, 3.040), (3.011, 3.027), (3.024, 2.998), (3.005, 2.986), (3.014, 2.959), (3.020, 2.947), (3.009, 2.910), (3.025, 2.880), (3.002, 2.824), (3.016, 2.778), (3.012, 2.690),
    (3.049, 3.145), (3.030, 3.115), (3.039, 3.081), (3.045, 3.067), (3.034, 3.040), (3.050, 3.029), (3.027, 3.001), (3.041, 2.988), (3.037, 2.956), (3.028, 2.937), (3.042, 2.891), (3.032, 2.857), (3.047, 2.783), (3.036, 2.731),
    (3.075, 3.178), (3.052, 3.128), (3.066, 3.112), (3.062, 3.082), (3.053, 3.069), (3.067, 3.040), (3.057, 3.028), (3.072, 3.001), (3.061, 2.989), (3.074, 2.952), (3.055, 2.922), (3.064, 2.866), (3.070, 2.820), (3.059, 2.732),
    (3.092, 3.187), (3.082, 3.157), (3.097, 3.123), (3.086, 3.109), (3.099, 3.082), (3.080, 3.071), (3.089, 3.043), (3.095, 3.030), (3.084, 2.998), (3.100, 2.979), (3.077, 2.933), (3.091, 2.899), (3.087, 2.825), (3.078, 2.773),
    (3.105, 3.219), (3.114, 3.169), (3.120, 3.153), (3.109, 3.123), (3.125, 3.110), (3.102, 3.081), (3.116, 3.069), (3.112, 3.042), (3.103, 3.030), (3.117, 2.993), (3.107, 2.963), (3.122, 2.907), (3.111, 2.861), (3.124, 2.773),
    (3.127, 3.228), (3.141, 3.198), (3.137, 3.164), (3.128, 3.150), (3.142, 3.123), (3.132, 3.112), (3.147, 3.084), (3.136, 3.071), (3.149, 3.039), (3.130, 3.020), (3.139, 2.974), (3.145, 2.940), (3.134, 2.866), (3.150, 2.814),
    (3.157, 3.260), (3.172, 3.210), (3.161, 3.194), (3.174, 3.164), (3.155, 3.151), (3.164, 3.122), (3.170, 3.110), (3.159, 3.083), (3.175, 3.071), (3.152, 3.034), (3.166, 3.004), (3.162, 2.948), (3.153, 2.902), (3.167, 2.814),
    (3.189, 3.268), (3.195, 3.238), (3.184, 3.204), (3.200, 3.190), (3.177, 3.163), (3.191, 3.152), (3.187, 3.124), (3.178, 3.111), (3.192, 3.079), (3.182, 3.060), (3.197, 3.014), (3.186, 2.980), (3.199, 2.906), (3.180, 2.854),
    (3.216, 3.300), (3.212, 3.250), (3.203, 3.234), (3.217, 3.204), (3.207, 3.191), (3.222, 3.162), (3.211, 3.150), (3.224, 3.123), (3.205, 3.111), (3.214, 3.074), (3.220, 3.044), (3.209, 2.988), (3.225, 2.942), (3.202, 2.854),
    (3.247, 3.308), (3.236, 3.278), (3.249, 3.244), (3.230, 3.230), (3.239, 3.203), (3.245, 3.192), (3.234, 3.164), (3.250, 3.151), (3.227, 3.119), (3.241, 3.100), (3.237, 3.054), (3.228, 3.020), (3.242, 2.946), (3.232, 2.894),
    (3.270, 3.340), (3.259, 3.290), (3.275, 3.274), (3.252, 3.244), (3.266, 3.231), (3.262, 3.202), (3.253, 3.190), (3.267, 3.163), (3.257, 3.151), (3.272, 3.114), (3.261, 3.084), (3.274, 3.028), (3.255, 2.982), (3.264, 2.894),
    (3.287, 3.347), (3.278, 3.317), (3.292, 3.283), (3.282, 3.269), (3.297, 3.242), (3.286, 3.231), (3.299, 3.203), (3.280, 3.190), (3.289, 3.158), (3.295, 3.139), (3.284, 3.093), (3.300, 3.059), (3.277, 2.985), (3.291, 2.933),
    (3.311, 3.379), (3.324, 3.329), (3.305, 3.313), (3.314, 3.283), (3.320, 3.270), (3.309, 3.241), (3.325, 3.229), (3.302, 3.202), (3.316, 3.190), (3.312, 3.153), (3.303, 3.123), (3.317, 3.067), (3.307, 3.021), (3.322, 2.933),
    (3.334, 3.386), (3.350, 3.356), (3.327, 3.322), (3.341, 3.308), (3.337, 3.281), (3.328, 3.270), (3.342, 3.242), (3.332, 3.229), (3.347, 3.197), (3.336, 3.178), (3.349, 3.132), (3.330, 3.098), (3.339, 3.024), (3.345, 2.972),
    (3.353, 3.417), (3.367, 3.367), (3.357, 3.351), (3.372, 3.321), (3.361, 3.308), (3.374, 3.279), (3.355, 3.267), (3.364, 3.240), (3.370, 3.228), (3.359, 3.191), (3.375, 3.161), (3.352, 3.105), (3.366, 3.059), (3.362, 2.971),
    (3.399, 3.425), (3.380, 3.395), (3.389, 3.361), (3.395, 3.347), (3.384, 3.320), (3.400, 3.309), (3.377, 3.281), (3.391, 3.268), (3.387, 3.236), (3.378, 3.217), (3.392, 3.171), (3.382, 3.137), (3.397, 3.063), (3.386, 3.011),
]

# regression curve points
reg_x = [1.60, 1.80, 2.00, 2.25, 2.50, 2.75, 3.00, 3.25, 3.50, 3.75, 4.00, 4.15, 4.31]
reg_y = [1.562, 1.777, 1.985, 2.235, 2.473, 2.700, 2.915, 3.119, 3.311, 3.492, 3.661, 3.757, 3.855]

x_label = "USGS 14207770 Observed Water Level Elevation, m NAVD88"
y_label = "2016 Upper Willamette River Water Level\nElevation (segment 8), m NAVD88"
eq_text = "y = -0.092x\u00b2 + 1.390x + -0.427"
r2_text = "\u00b2 = 0.941"

all_obs = (obs_160_195 + obs_195_250 + obs_250_300 + obs_300_340 + obs_340_380
           + obs_380_431 + obs_core_a + obs_core_b)
obs_x = [p[0] for p in all_obs]
obs_y = [p[1] for p in all_obs]

FONT = "DejaVu Sans"

p = figure(frame_width=1113, frame_height=635,
           x_range=Range1d(1.5, 4.5), y_range=Range1d(1.5, 4.5),
           output_backend="svg", toolbar_location=None,
           min_border_left=94, min_border_right=13, min_border_top=16, min_border_bottom=50,
           background_fill_color="white", border_fill_color="white")

p.outline_line_color = "black"
p.outline_line_width = 1.2

for ax in (p.xaxis[0], p.yaxis[0]):
    ax.ticker = SingleIntervalTicker(interval=0.5, num_minor_ticks=5)
    ax.formatter = NumeralTickFormatter(format="0.0")
    ax.major_label_text_font = FONT
    ax.major_label_text_font_size = "19px"
    ax.major_label_text_color = "black"
    ax.axis_label_text_font = FONT
    ax.axis_label_text_font_size = "20px"
    ax.axis_label_text_font_style = "normal"
    ax.axis_label_text_color = "black"
    ax.axis_line_color = "black"
    ax.major_tick_line_color = "black"
    ax.minor_tick_line_color = "black"
    ax.major_tick_out = 6
    ax.major_tick_in = 0
    ax.minor_tick_out = 3
    ax.minor_tick_in = 0

p.xaxis.axis_label = x_label
p.yaxis.axis_label = y_label
p.xaxis.major_label_standoff = 3
p.yaxis.major_label_standoff = 3
p.xaxis.axis_label_standoff = 2
p.yaxis.axis_label_standoff = 2

p.xgrid.ticker = SingleIntervalTicker(interval=0.5)
p.ygrid.ticker = SingleIntervalTicker(interval=0.5)
p.xgrid.grid_line_color = "#e3e3e3"
p.ygrid.grid_line_color = "#e3e3e3"

sc = p.scatter(obs_x, obs_y, size=5.5, color="black", line_color="black")
ln = p.line(reg_x, reg_y, line_color="#e8201e", line_width=2, line_dash="7 3")

legend = Legend(items=[LegendItem(label="Observed Data", renderers=[sc]),
                       LegendItem(label="Polynomial Regression", renderers=[ln])],
                orientation="horizontal", location="top_right",
                label_text_font=FONT, label_text_font_size="18.5px", label_text_color="black",
                glyph_width=30, glyph_height=11, label_standoff=26, spacing=34, padding=8, margin=10,
                border_line_color="#cccccc", border_line_width=1,
                background_fill_color="white", background_fill_alpha=0.85)
p.add_layout(legend)

p.add_layout(Label(x=1.654, y=4.354, text=eq_text, text_baseline="top",
                   text_font=FONT, text_font_size="17px", text_color="black"))
p.add_layout(Label(x=1.654, y=4.268, text="R", text_baseline="top",
                   text_font=FONT, text_font_size="17px", text_font_style="italic",
                   text_color="black"))
p.add_layout(Label(x=1.654, y=4.268, x_offset=12, text=r2_text, text_baseline="top",
                   text_font=FONT, text_font_size="17px", text_color="black"))

open("out.html", "w").write(file_html(p, INLINE))
